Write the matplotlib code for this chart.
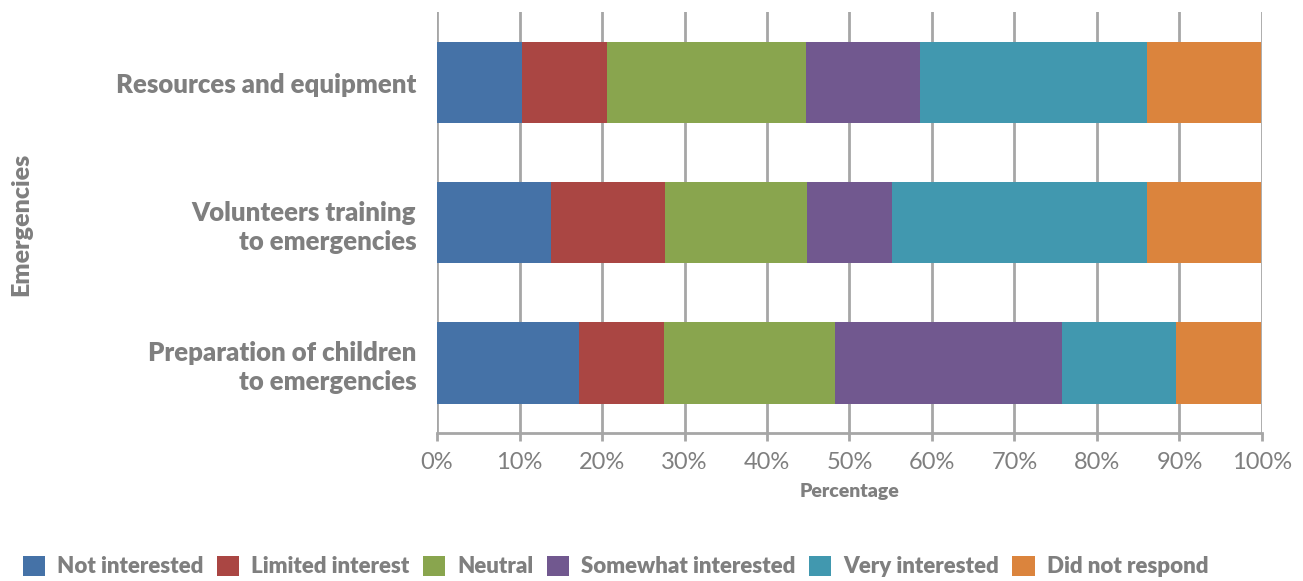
import matplotlib
matplotlib.use("Agg")
import matplotlib.pyplot as plt
from matplotlib.patches import Patch

plt.rcParams['font.family'] = ['Lato', 'DejaVu Sans']

# survey topics, bottom to top
categories = ["Preparation of children\nto emergencies",
              "Volunteers training\nto emergencies",
              "Resources and equipment"]
responses = ["Not interested", "Limited interest", "Neutral",
             "Somewhat interested", "Very interested", "Did not respond"]
# percentage of respondents per answer, one list per topic (same order as categories)
not_interested = [17.2, 13.8, 10.3]
limited_interest = [10.3, 13.8, 10.3]
neutral = [20.7, 17.2, 24.1]
somewhat_interested = [27.6, 10.3, 13.8]
very_interested = [13.8, 31.0, 27.6]
did_not_respond = [10.3, 13.8, 13.8]
series = [not_interested, limited_interest, neutral,
          somewhat_interested, very_interested, did_not_respond]
colors = ["#4572a7", "#aa4643", "#89a54e", "#71588f", "#4198af", "#db843d"]
xticks = [0, 10, 20, 30, 40, 50, 60, 70, 80, 90, 100]

grey = "#7f7f7f"
grid_grey = "#a6a6a6"

fig = plt.figure(figsize=(13.03, 5.81), dpi=100)
ax = fig.add_axes([0.3354, 0.2547, 0.6331, 0.7238])

ypos = list(range(len(categories)))
left = [0.0] * len(categories)
for vals, col, name in zip(series, colors, responses):
    ax.barh(ypos, vals, left=left, height=0.58, color=col, label=name, zorder=3)
    left = [l + v for l, v in zip(left, vals)]

ax.set_xlim(0, 100)
ax.set_ylim(-0.5, 2.5)
ax.set_xticks(xticks)
ax.set_xticklabels([f"{t}%" for t in xticks], fontsize=17, color=grey)
ax.set_yticks(ypos)
ax.set_yticklabels(categories, fontsize=18.5, fontweight='heavy', color=grey,
                   linespacing=1.25)
ax.tick_params(axis='y', length=0, pad=15)
ax.tick_params(axis='x', length=6, width=2, color=grid_grey, pad=8)

ax.xaxis.grid(True, color=grid_grey, linewidth=2, zorder=0)
for side in ['top', 'right', 'left']:
    ax.spines[side].set_visible(False)
ax.spines['bottom'].set_color(grid_grey)
ax.spines['bottom'].set_linewidth(2)

ax.set_xlabel("Percentage", fontsize=14, fontweight='heavy', color=grey,
              labelpad=7)
fig.text(0.016, 0.614, "Emergencies", rotation=90, fontsize=18,
         fontweight='heavy', color=grey, ha='center', va='center')

handles = [Patch(facecolor=c, edgecolor='none') for c in colors]
fig.legend(handles, responses, loc='lower left', bbox_to_anchor=(0.002, -0.028),
           ncol=6, frameon=False, handlelength=1.0, handleheight=1.0,
           handletextpad=0.55, columnspacing=0.6,
           prop={'size': 16, 'weight': 'heavy'}, labelcolor=grey)

fig.savefig("out.png", dpi=100)
